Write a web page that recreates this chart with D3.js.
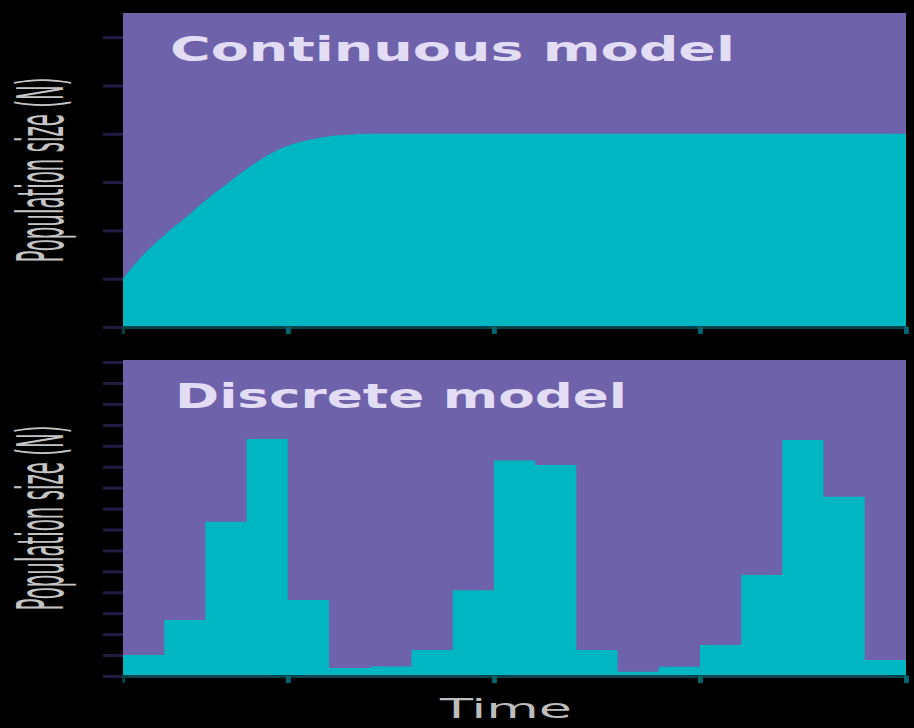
<!DOCTYPE html>
<html>
<head>
<meta charset="utf-8">
<script src="https://cdn.jsdelivr.net/npm/d3@7"></script>
<style>
  html, body { margin: 0; padding: 0; background: #000; }
  svg { display: block; }
</style>
</head>
<body>
<svg id="chart" width="914" height="728"></svg>
<script>
// ---- data ----
const contTime  = [1, 1.5, 2, 2.5, 3, 3.5, 4, 4.5, 5, 5.5, 6, 6.5, 7, 8, 9, 10, 12, 14, 16, 18, 20];
const contPop   = [1.0, 1.5, 1.9, 2.25, 2.62, 2.95, 3.27, 3.55, 3.75, 3.87, 3.95, 3.98, 4.0, 4.0, 4.0, 4.0, 4.0, 4.0, 4.0, 4.0, 4.0];

const discTime  = [1, 2, 3, 4, 5, 6, 7, 8, 9, 10, 11, 12, 13, 14, 15, 16, 17, 18, 19, 20];
const discPop   = [1.0, 2.68, 7.37, 11.32, 3.63, 0.38, 0.45, 1.24, 4.1, 10.3, 10.08, 1.24, 0.2, 0.44, 1.48, 4.83, 11.28, 8.57, 0.76, 0.76];

const xTicks      = [5, 10, 15, 20];
const topYTicks   = [0, 1, 2, 3, 4, 5, 6];
const botYTicks   = [0, 1, 2, 3, 4, 5, 6, 7, 8, 9, 10, 11, 12, 13, 14, 15];
const panelTitles = ["Continuous model", "Discrete model"];
const yLabel      = "Population size (N)";
const xLabel      = "Time";

// ---- styling ----
const PURPLE = "#6e62aa";
const TEAL   = "#00b6c2";
const svg = d3.select("#chart");

const left = 123, right = 906;
const x = d3.scaleLinear().domain([1, 20]).range([left, right]);

const panels = [
  { top: 13,  bottom: 327, domain: [0, 6.5],  ticks: topYTicks, times: contTime, vals: contPop, curve: d3.curveMonotoneX,
    title: panelTitles[0], titleX: 170, titleY: 61, titleLen: 565 },
  { top: 360, bottom: 676, domain: [0, 15.1], ticks: botYTicks, times: discTime, vals: discPop, curve: d3.curveStepAfter,
    title: panelTitles[1], titleX: 175, titleY: 408, titleLen: 452 }
];

panels.forEach(p => {
  const y = d3.scaleLinear().domain(p.domain).range([p.bottom, p.top]);
  const g = svg.append("g");

  // panel background
  g.append("rect")
    .attr("x", left).attr("y", p.top)
    .attr("width", right - left).attr("height", p.bottom - p.top)
    .attr("fill", PURPLE);

  // area
  const pts = p.times.map((t, i) => [t, p.vals[i]]);
  const area = d3.area()
    .x(d => x(d[0]))
    .y0(y(0))
    .y1(d => y(d[1]))
    .curve(p.curve);
  g.append("path").datum(pts).attr("d", area).attr("fill", TEAL);

  // y axis ticks (no labels)
  const yAxis = d3.axisLeft(y).tickValues(p.ticks).tickSize(20).tickFormat("");
  const ya = g.append("g").attr("transform", `translate(${left},0)`).call(yAxis);
  ya.select(".domain").remove();
  ya.selectAll(".tick line").attr("stroke", "#241b44").attr("stroke-width", 3);

  // x axis ticks (no labels)
  const xAxis = d3.axisBottom(x).tickValues(xTicks).tickSize(7).tickFormat("");
  const xa = g.append("g").attr("transform", `translate(0,${p.bottom})`).call(xAxis);
  xa.select(".domain").attr("stroke", "#00434a").attr("stroke-width", 3);
  xa.selectAll(".tick line").attr("stroke", "#00656e").attr("stroke-width", 5);

  // title
  g.append("text")
    .attr("x", p.titleX).attr("y", p.titleY)
    .attr("textLength", p.titleLen).attr("lengthAdjust", "spacingAndGlyphs")
    .attr("font-family", "DejaVu Sans, sans-serif")
    .attr("font-weight", "bold")
    .attr("font-size", 34)
    .attr("fill", "#e2ddf4")
    .text(p.title);

  // y label (rotated, stretched)
  const cy = (p.top + p.bottom) / 2;
  svg.append("g")
    .attr("transform", `translate(63,${cy}) scale(3.2,1)`)
    .append("text")
    .attr("transform", "rotate(-90)")
    .attr("text-anchor", "middle")
    .attr("textLength", 185).attr("lengthAdjust", "spacingAndGlyphs")
    .attr("font-family", "DejaVu Sans, sans-serif")
    .attr("font-size", 20)
    .attr("fill", "#c4c4c4")
    .text(yLabel);
});

// x label
svg.append("text")
  .attr("x", 440).attr("y", 718)
  .attr("textLength", 132).attr("lengthAdjust", "spacingAndGlyphs")
  .attr("font-family", "DejaVu Sans, sans-serif")
  .attr("font-size", 27)
  .attr("fill", "#bdbdbd")
  .text(xLabel);
</script>
</body>
</html>
